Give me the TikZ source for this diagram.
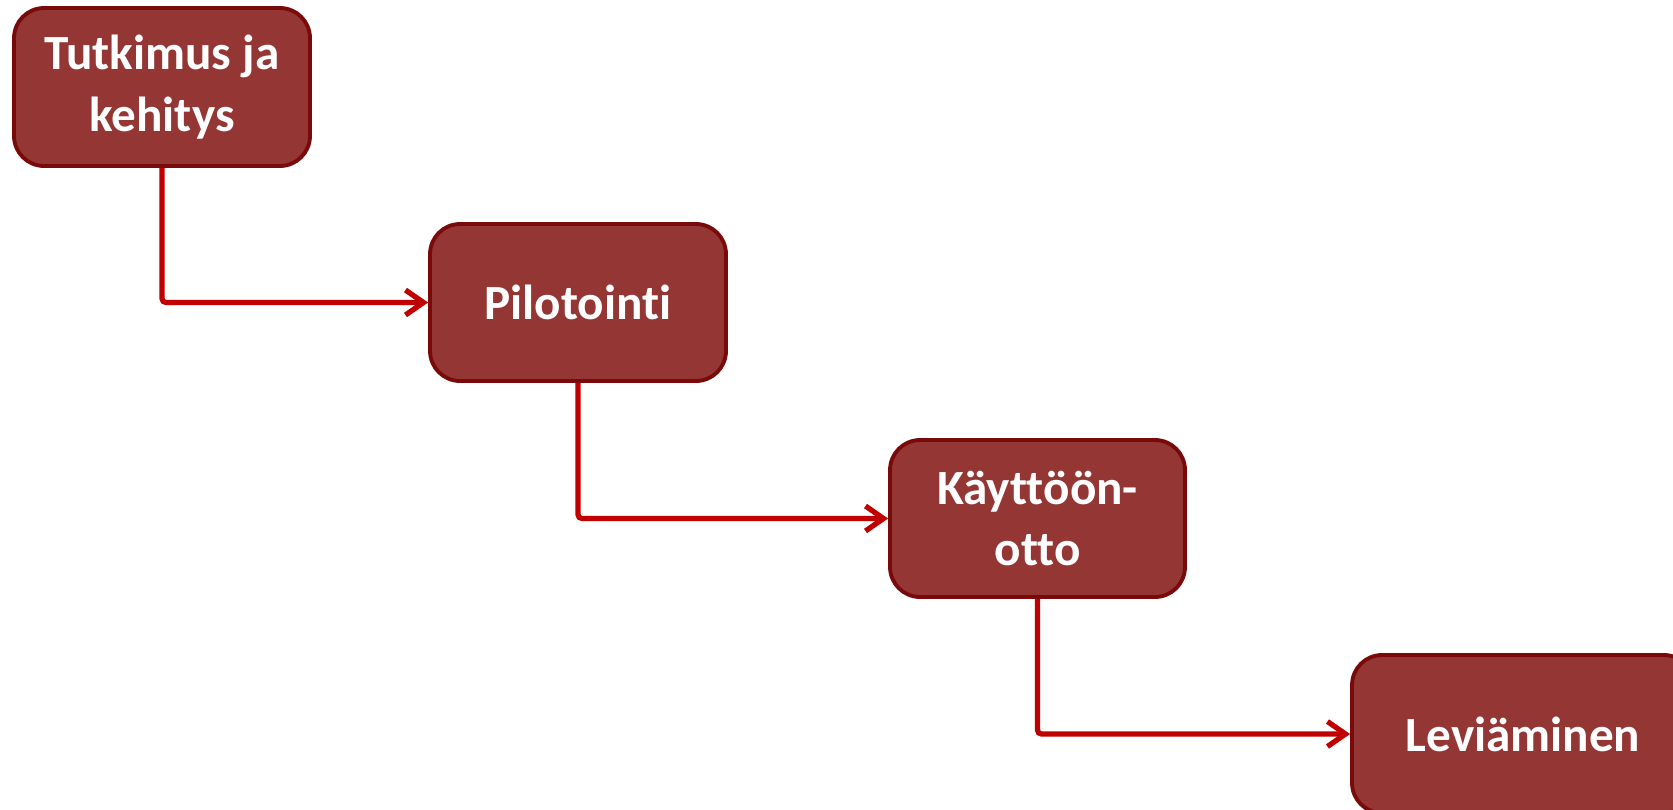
\documentclass[tikz,border=0pt]{standalone}
\usepackage{fontspec}
\setmainfont{Carlito}[Ligatures=NoCommon]
\usetikzlibrary{arrows.meta}

\definecolor{boxfill}{HTML}{943634}
\definecolor{boxline}{HTML}{7A0A0A}
\definecolor{arrowred}{HTML}{C00000}

\tikzset{
    phase/.style={draw=boxline, fill=boxfill, line width=2.2pt, rounded corners=0.6cm,
        text=white, font=\fontsize{28}{35}\selectfont\bfseries, align=center,
        inner sep=0pt},
    flow/.style={arrowred, line width=3pt, rounded corners=0.08cm,
        -{Straight Barb[length=0.36cm, width=0.5cm, line width=3pt]}}
}

\begin{document}
\begin{tikzpicture}[x=0.02cm, y=-0.02cm]

    \useasboundingbox (0,0) rectangle (1673,809);
    \clip (0,0) rectangle (1673,809);

    % phases
    \node[phase, minimum width=5.92cm, minimum height=3.16cm] (tutkimus) at (162,87) {Tutkimus ja\\kehitys};
    \node[phase, minimum width=5.92cm, minimum height=3.14cm] (pilotointi) at (578,302.5) {Pilotointi};
    \node[phase, minimum width=5.9cm, minimum height=3.14cm] (kayttoonotto) at (1037.5,518.5) {Käyttöön-\\otto};
    \node[phase, minimum width=6.84cm, minimum height=3.16cm] (leviaminen) at (1523,734) {Leviäminen};

    % arrows
    \draw[flow] (tutkimus.south) |- (pilotointi.west);
    \draw[flow] (pilotointi.south) |- (kayttoonotto.west);
    \draw[flow] (kayttoonotto.south) |- (leviaminen.west);

\end{tikzpicture}
\end{document}
